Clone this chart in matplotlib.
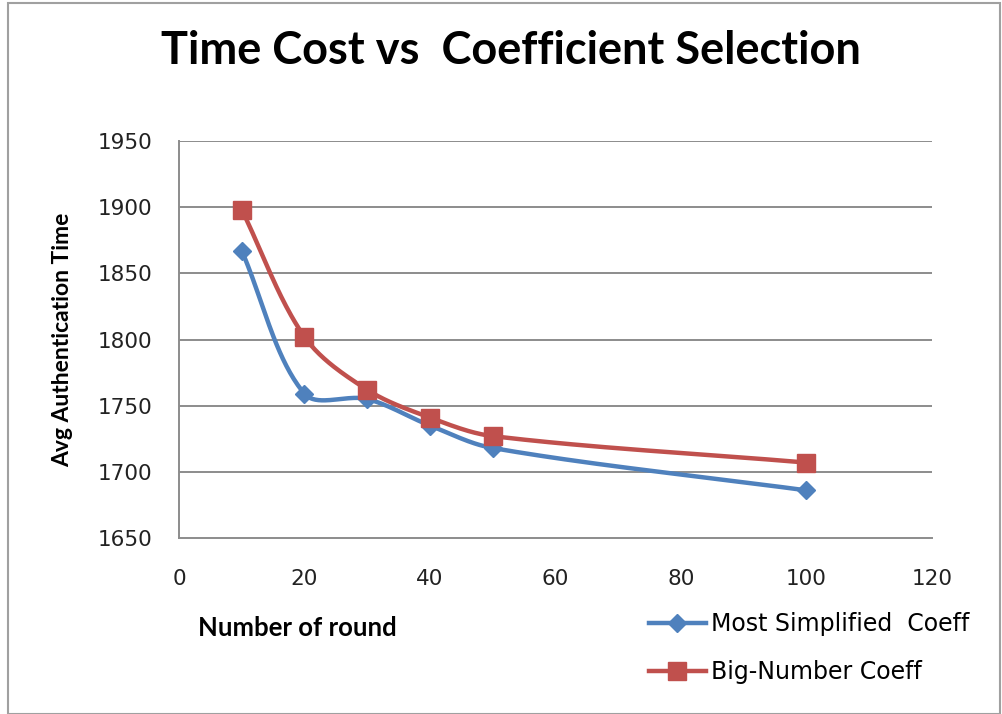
import matplotlib.pyplot as plt
import numpy as np
from matplotlib.patches import Rectangle

rounds = [10, 20, 30, 40, 50, 100]
simplified = [1867, 1759, 1755, 1735, 1718, 1686]
big_number = [1898, 1802, 1762, 1741, 1727, 1707]

x_ticks = [0, 20, 40, 60, 80, 100, 120]
y_ticks = [1650, 1700, 1750, 1800, 1850, 1900, 1950]

BLUE = '#4F81BD'
RED = '#C0504D'
GRID = '#8C8C8C'


def smooth(x, y, ax, n=40):
    # Bezier smoothing in display space, tangents weighted by segment length
    pts = ax.transData.transform(np.column_stack([x, y]))
    p = np.vstack([pts[0], pts, pts[-1]])
    out = []
    for i in range(1, len(p) - 2):
        p0, p1, p2, p3 = p[i - 1], p[i], p[i + 1], p[i + 2]
        d01 = np.linalg.norm(p1 - p0)
        d12 = np.linalg.norm(p2 - p1)
        d23 = np.linalg.norm(p3 - p2)
        c1 = p1 + (p2 - p0) * d12 / (d01 + d12) / 3
        c2 = p2 - (p3 - p1) * d12 / (d12 + d23) / 3
        t = np.linspace(0, 1, n)[:, None]
        seg = ((1 - t) ** 3) * p1 + 3 * ((1 - t) ** 2) * t * c1 + 3 * (1 - t) * t ** 2 * c2 + t ** 3 * p2
        out.append(seg)
    out = np.vstack(out)
    d = ax.transData.inverted().transform(out)
    return d[:, 0], d[:, 1]


fig = plt.figure(figsize=(10.03, 7.14), dpi=100)
ax = fig.add_axes([0.1785, 0.2465, 0.7505, 0.556])
ax.set_xlim(0, 120)
ax.set_ylim(1650, 1950)

fig.patches.append(Rectangle((0.008, 0.0), 0.989, 0.996, transform=fig.transFigure,
                             fill=False, edgecolor='#A0A0A0', linewidth=1.5))

for yv in y_ticks[1:]:
    ax.axhline(yv, color=GRID, linewidth=1.4, zorder=1)

for s in ['top', 'right']:
    ax.spines[s].set_visible(False)
for s in ['left', 'bottom']:
    ax.spines[s].set_color(GRID)
    ax.spines[s].set_linewidth(1.4)

ax.set_xticks(x_ticks)
ax.set_yticks(y_ticks)
ax.tick_params(length=0, labelsize=15.5, colors='#222222')
ax.tick_params(axis='y', pad=19.5)
ax.tick_params(axis='x', pad=22)

fig.canvas.draw()
sx, sy = smooth(rounds, simplified, ax)
bx, by = smooth(rounds, big_number, ax)

ax.plot(sx, sy, color=BLUE, linewidth=3.2, zorder=3, solid_capstyle='round')
ax.plot(bx, by, color=RED, linewidth=3.2, zorder=3, solid_capstyle='round')
ax.plot(rounds, simplified, color=BLUE, marker='D', markersize=9,
        linestyle='none', zorder=4)
ax.plot(rounds, big_number, color=RED, marker='s', markersize=12.5,
        linestyle='none', zorder=5)

# legend handles with line + marker
l1, = ax.plot([], [], color=BLUE, linewidth=3.2, marker='D', markersize=9)
l2, = ax.plot([], [], color=RED, linewidth=3.2, marker='s', markersize=12.5)
fig.legend([l1, l2], ['Most Simplified  Coeff', 'Big-Number Coeff'],
           loc='upper left', bbox_to_anchor=(0.626, 0.172), frameon=False,
           fontsize=17, handlelength=2.4, labelspacing=1.0, handletextpad=0.2)

fig.text(0.509, 0.928, 'Time Cost vs  Coefficient Selection', ha='center', va='center',
         fontsize=32.5, fontweight='bold', family='Lato')
fig.text(0.296, 0.12, 'Number of round', ha='center', va='center',
         fontsize=18.5, fontweight='bold', family='Lato')
fig.text(0.062, 0.524, 'Avg Authentication Time', ha='center', va='center', rotation=90,
         fontsize=16.5, fontweight='bold', family='Lato')

fig.savefig('out.png', dpi=100)
